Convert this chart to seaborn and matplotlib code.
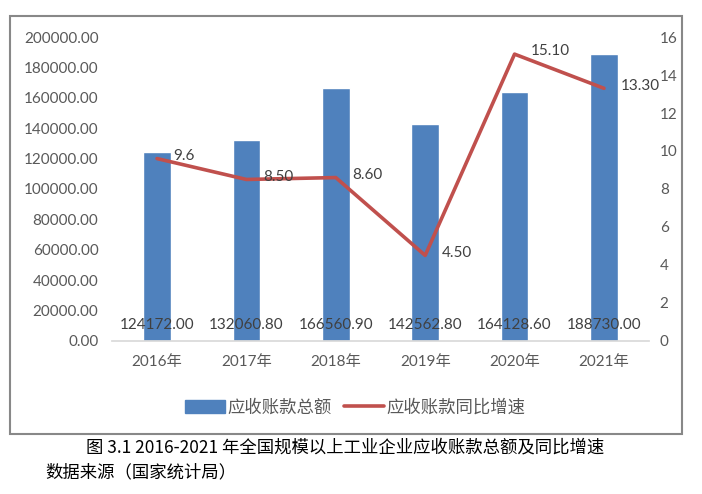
import seaborn as sns
import pandas as pd
import matplotlib.pyplot as plt
import numpy as np
from matplotlib.patches import Rectangle, Patch
from matplotlib.lines import Line2D

years = ['2016年', '2017年', '2018年', '2019年', '2020年', '2021年']
receivables = [124172.00, 132060.80, 166560.90, 142562.80, 164128.60, 188730.00]
growth = [9.6, 8.50, 8.60, 4.50, 15.10, 13.30]
growth_labels = ['9.6', '8.50', '8.60', '4.50', '15.10', '13.30']

bar_name = '应收账款总额'
line_name = '应收账款同比增速'
caption1 = '图 3.1 2016-2021 年全国规模以上工业企业应收账款总额及同比增速'
caption2 = '数据来源（国家统计局）'

BLUE = '#4F81BD'
RED = '#C0504D'
GRAY = '#595959'

sns.set_theme(style='white')
plt.rcParams['font.family'] = ['Lato', 'Noto Sans CJK SC', 'DejaVu Sans']

df = pd.DataFrame({'year': years, 'value': receivables, 'growth': growth})

fig = plt.figure(figsize=(7.02, 4.94), dpi=100)
ax = fig.add_axes([0.160, 0.310, 0.764, 0.615])

sns.barplot(data=df, x='year', y='value', color=BLUE, width=0.31,
            saturation=1, ax=ax)
ax.set_ylim(0, 200000)
ax.set_yticks(np.arange(0, 200001, 20000))
ax.set_yticklabels([f'{v:.2f}' for v in np.arange(0, 200001, 20000)])
ax.set_xlim(-0.5, len(years) - 0.5)
ax.set_xlabel('')
ax.set_ylabel('')
ax.tick_params(axis='both', length=0, labelsize=11, colors=GRAY)
ax.tick_params(axis='x', pad=10)
ax.tick_params(axis='y', pad=10)
for s in ['top', 'right', 'left']:
    ax.spines[s].set_visible(False)
ax.spines['bottom'].set_color('#D9D9D9')

# bar values near the base
for i, v in enumerate(receivables):
    ax.text(i, 10500, f'{v:.2f}', ha='center', va='center', fontsize=11,
            color='#404040')

ax2 = ax.twinx()
sns.lineplot(x=np.arange(len(years)), y=growth, color=RED, linewidth=2.6,
             ax=ax2)
ax2.set_ylim(0, 16)
ax2.set_yticks(range(0, 17, 2))
ax2.tick_params(axis='y', length=0, labelsize=11, colors=GRAY, pad=8)
for s in ['top', 'right', 'left', 'bottom']:
    ax2.spines[s].set_visible(False)
ax2.set_ylabel('')

for i, (g, lab) in enumerate(zip(growth, growth_labels)):
    ax2.annotate(lab, (i, g), xytext=(12, 2), textcoords='offset points',
                 ha='left', va='center', fontsize=11, color='#404040')

handles = [Patch(facecolor=BLUE, edgecolor=BLUE),
           Line2D([0], [0], color=RED, linewidth=2.6)]
fig.legend(handles, [bar_name, line_name], loc='center',
           bbox_to_anchor=(0.506, 0.176), ncol=2, frameon=False,
           fontsize=12.5, labelcolor=GRAY, handlelength=2.3, handleheight=0.8,
           columnspacing=0.7, handletextpad=0.15)

# outer chart frame
fig.patches.append(Rectangle((10 / 702, 1 - 434 / 494), 672 / 702, 418 / 494,
                             transform=fig.transFigure, fill=False,
                             edgecolor='#888888', linewidth=1.5))

fig.text(345 / 702, 1 - 447 / 494, caption1, ha='center', va='center',
         fontsize=12.5, color='black', family=['Noto Sans CJK SC', 'DejaVu Sans'])
fig.text(45 / 702, 1 - 472 / 494, caption2, ha='left', va='center',
         fontsize=12.5, color='black', family=['Noto Sans CJK SC', 'DejaVu Sans'])

fig.savefig('out.png', dpi=100)
